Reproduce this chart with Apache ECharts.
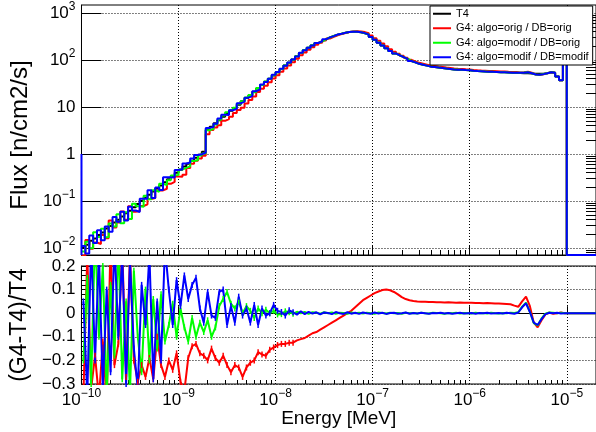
<!DOCTYPE html>
<html><head><meta charset="utf-8">
<script src="https://cdn.jsdelivr.net/npm/echarts@6/dist/echarts.min.js"></script>
<style>html,body{margin:0;padding:0;background:#fff}#c{width:596px;height:432px}</style>
</head><body><div id="c"></div>
<script>
// ---------------- data ----------------
const binsPerDecade = 25;          // log-spaced energy bins
const logEnergyStart = -10;        // first bin edge: 1e-10 MeV
const seriesNames = ['T4', 'G4: algo=orig / DB=orig', 'G4: algo=modif / DB=orig', 'G4: algo=modif / DB=modif'];
const xTickValues = [1e-10, 1e-9, 1e-8, 1e-7, 1e-6, 1e-5];
const xTickLabels = ['10^-10', '10^-9', '10^-8', '10^-7', '10^-6', '10^-5'];
const yTopTickValues = [1e-2, 1e-1, 1, 10, 100, 1000];
const yTopTickLabels = ['10^-2', '10^-1', '1', '10', '10^2', '10^3'];
const blueUnderflow = 1;

// T4 flux per bin [n/cm2/s]
const t4Flux = [
  0.0105, 0.0118, 0.0142, 0.0160, 0.0190, 0.0215, 0.026, 0.0295, 0.035, 0.040,
  0.047, 0.055, 0.062, 0.074, 0.086, 0.100, 0.117, 0.136, 0.160, 0.185,
  0.215, 0.25, 0.29, 0.335, 0.40, 0.46, 0.54, 0.62, 0.72, 0.83,
  0.97, 1.12, 3.3, 3.8, 4.5, 5.2, 6.2, 7.1, 8.3, 9.5,
  11.2, 13.2, 15.5, 17.8, 21, 25, 29.5, 34.5, 40, 47,
  55, 64.5, 76, 87, 102, 120, 141, 162, 182, 204,
  229, 251, 275, 302, 324, 347, 363, 380, 394, 398,
  398, 389, 372, 347, 309, 269, 234, 204, 178, 155,
  138, 126, 115, 105, 95.5, 89, 83, 79.4, 75.9, 72.4,
  70.8, 69.2, 67.6, 66.1, 64.6, 63.1, 62.4, 61.7, 61.0, 60.3,
  58.9, 58.2, 57.5, 56.9, 56.2, 56.0, 55.6, 55.0, 55.0, 54.3,
  53.7, 53.7, 53.1, 52.5, 52.5, 51.9, 51.3, 51.3, 51.3, 52.5,
  55.0, 53.7, 44.7, 37.2, 150, 0, 0, 0, 0, 0,
  0, 0, 0
];

// (G4-T4)/T4 per bin
const ratioOrigOrig = [
  -0.35, 0.25, -0.32, -0.18, -0.36, -0.12, -0.38, 0.30, -0.22, -0.13,
  0.28, -0.27, 0.25, -0.20, -0.29, -0.22, -0.27, -0.19, -0.28, -0.10,
  -0.22, -0.27, -0.20, -0.24, -0.17, -0.29, -0.33, -0.19, -0.14, -0.13,
  -0.17, -0.18, -0.20, -0.15, -0.19, -0.21, -0.18, -0.22, -0.25, -0.22,
  -0.23, -0.27, -0.23, -0.21, -0.20, -0.165, -0.175, -0.18, -0.155, -0.145,
  -0.135, -0.13, -0.13, -0.125, -0.125, -0.115, -0.11, -0.105, -0.095, -0.085,
  -0.08, -0.07, -0.06, -0.05, -0.04, -0.03, -0.02, -0.01, 0.0, 0.01,
  0.025, 0.04, 0.055, 0.065, 0.075, 0.085, 0.092, 0.098, 0.100, 0.097,
  0.090, 0.080, 0.068, 0.060, 0.055, 0.052, 0.050, 0.049, 0.048, 0.047,
  0.047, 0.046, 0.046, 0.045, 0.046, 0.045, 0.044, 0.045, 0.044, 0.044,
  0.044, 0.043, 0.043, 0.042, 0.043, 0.042, 0.041, 0.041, 0.040, 0.039,
  0.038, 0.032, 0.027, 0.050, 0.070, 0.030, -0.040, -0.060, -0.030, -0.005,
  0.002, -0.002, 0.0, 0.003, 0.0, 0, 0, 0, 0, 0,
  0, 0, 0
];
const ratioModifOrig = [
  -0.20, 0.15, -0.30, 0.35, -0.10, 0.20, -0.35, 0.12, -0.18, 0.30,
  -0.28, 0.05, -0.33, 0.18, -0.10, -0.25, 0.10, -0.20, 0.06, -0.15,
  0.08, -0.12, -0.05, 0.04, -0.10, 0.02, -0.06, -0.12, -0.02, -0.10,
  -0.04, -0.08, -0.03, -0.10, -0.06, 0.03, 0.06, 0.09, 0.04, 0.02,
  0.05, 0.0, 0.03, 0.01, -0.02, 0.02, 0.0, 0.015, 0.0, 0.01,
  -0.005, -0.004, 0.008, 0.004, -0.002, 0.006, 0.0, 0.005, -0.003, 0.004,
  0.002, -0.002, 0.004, 0.0, 0.003, -0.002, 0.002, 0.001, -0.002, 0.003,
  0.0, 0.002, -0.001, 0.002, 0.0, -0.002, 0.003, 0.001, -0.001, 0.002,
  0.0, 0.001, -0.002, 0.002, 0.0, 0.001, -0.001, 0.002, 0.0, -0.001,
  0.002, 0.001, 0.0, -0.002, 0.001, 0.0, 0.002, -0.001, 0.001, 0.0,
  -0.001, 0.002, 0.0, 0.001, -0.001, 0.002, 0.0, -0.001, 0.001, 0.0,
  0.002, 0.001, 0.004, 0.028, 0.045, 0.006, -0.042, -0.052, -0.022, -0.002,
  0.003, 0.002, 0.0, 0.002, 0.0, 0, 0, 0, 0, 0,
  0, 0, 0
];
const ratioModifModif = [
  0.05, -0.35, 0.30, -0.20, 0.25, -0.32, 0.10, -0.25, 0.30, -0.10,
  0.25, -0.30, 0.22, -0.15, -0.32, 0.12, -0.05, 0.25, -0.28, 0.05,
  -0.20, 0.28, 0.10, -0.05, 0.14, 0.03, 0.16, 0.06, 0.12, 0.15,
  0.02, -0.04, 0.09, -0.01, -0.02, 0.09, 0.10, -0.05, 0.03, -0.04,
  0.07, -0.01, 0.02, -0.04, 0.035, -0.05, 0.02, -0.01, 0.0, 0.035,
  0.01, 0.005, -0.01, 0.012, 0.004, -0.006, 0.008, -0.004, 0.006, -0.002,
  0.004, -0.005, 0.003, 0.001, -0.004, 0.005, 0.0, -0.003, 0.004, -0.002,
  0.002, -0.003, 0.003, 0.0, -0.002, 0.003, -0.001, 0.002, -0.003, 0.001,
  0.002, -0.002, 0.0, 0.003, -0.002, 0.001, -0.001, 0.002, 0.0, -0.002,
  0.001, 0.0, 0.002, -0.001, 0.001, -0.002, 0.0, 0.002, -0.001, 0.0,
  0.001, -0.002, 0.001, 0.0, 0.002, -0.001, 0.0, 0.001, -0.001, 0.002,
  0.0, -0.002, 0.003, 0.025, 0.042, 0.005, -0.040, -0.050, -0.025, -0.004,
  0.002, 0.0, 0.002, -0.001, 0.0, 0, 0, 0, 0, 0,
  0, 0, 0
];

// ---------------- helpers ----------------
const FONT = 'Liberation Sans, Arial, Helvetica, sans-serif';
const colors = ['#000000', '#ff0000', '#00ff00', '#0000ff'];
const xMin = 1e-10, xMax = 2e-5;
const yTopMin = 0.0071, yTopMax = 1480;

function edge(i) { return Math.pow(10, logEnergyStart + i / binsPerDecade); }
function center(i) { return Math.pow(10, logEnergyStart + (i + 0.5) / binsPerDecade); }
function histPoints(vals) {
  const pts = vals.map((v, i) => [edge(i), v > 0 ? v : yTopMin]);
  pts.push([edge(vals.length), pts[pts.length - 1][1]]);
  return pts;
}
function minorList(lo, hi) {
  const out = [];
  for (let e = lo; e < hi; e++) for (let k = 2; k <= 9; k++) out.push(k * Math.pow(10, e));
  return out;
}
function richLabel(s) {
  const p = s.split('^');
  return p.length > 1 ? '{b|' + p[0] + '}{s|' + p[1].replace('-', '\u2212') + '}' : '{b|' + s + '}';
}
const richStyle = {
  b: { fontSize: 17, fontFamily: FONT, color: '#000', lineHeight: 24 },
  s: { fontSize: 12, fontFamily: FONT, color: '#000', lineHeight: 12, verticalAlign: 'top' }
};
function labelFor(values, labels) {
  return function (v) {
    const lv = Math.round(Math.log10(v));
    for (let i = 0; i < values.length; i++) if (Math.round(Math.log10(values[i])) === lv) return richLabel(labels[i]);
    return '';
  };
}
const dotted = { color: '#000', width: 1, type: [1, 2] };

const ratios = [ratioOrigOrig, ratioModifOrig, ratioModifModif];
const g4Flux = ratios.map(r => t4Flux.map((v, i) => v * (1 + r[i])));
const topData = [t4Flux].concat(g4Flux).map(histPoints);
// blue histogram starts from its underflow level at the left edge
topData[3] = [[edge(0), blueUnderflow], [edge(0), yTopMin]].concat(topData[3]);

function xAxisPair(gridIndex, showLabels, majorLen, minorLen) {
  return [{
    type: 'log', logBase: 10, gridIndex, min: xMin, max: xMax, position: 'bottom',
    axisLine: { show: true, lineStyle: { color: '#000', width: 1 } },
    axisTick: { show: true, inside: true, length: majorLen, customValues: xTickValues, lineStyle: { color: '#000' } },
    axisLabel: { show: showLabels, customValues: xTickValues, formatter: labelFor(xTickValues, xTickLabels), rich: richStyle, margin: 4 },
    splitLine: { show: true, lineStyle: dotted },
    name: showLabels ? 'Energy [MeV]' : '', nameLocation: 'middle', nameGap: 25,
    nameTextStyle: { fontSize: 19, fontFamily: FONT, color: '#000' }
  }, {
    type: 'log', logBase: 10, gridIndex, min: xMin, max: xMax, position: 'bottom',
    axisLine: { show: false },
    axisTick: { show: true, inside: true, length: minorLen, customValues: minorList(-10, -4).filter(v => v < xMax), lineStyle: { color: '#000' } },
    axisLabel: { show: false }, splitLine: { show: false }
  }];
}

const option = {
  animation: false,
  backgroundColor: '#fff',
  grid: [
    { left: 78, top: 5, width: 520, height: 250, show: true, borderColor: '#000', borderWidth: 1, backgroundColor: '#fff' },
    { left: 78, top: 266, width: 520, height: 118, show: true, borderColor: '#000', borderWidth: 1, backgroundColor: '#fff' }
  ],
  legend: {
    data: seriesNames, orient: 'vertical', left: 430, top: 6,
    backgroundColor: '#fff', borderColor: '#000', borderWidth: 1, borderRadius: 0,
    padding: [1, 4, 1, 3], itemGap: 1, itemWidth: 18, itemHeight: 2, icon: 'rect',
    textStyle: { fontSize: 11, fontFamily: FONT, color: '#000', lineHeight: 13.5 }, z: 20
  },
  xAxis: [].concat(xAxisPair(0, false, 10, 5), xAxisPair(1, true, 7, 4)),
  yAxis: [{
    type: 'log', logBase: 10, gridIndex: 0, min: yTopMin, max: yTopMax,
    axisLine: { show: true, lineStyle: { color: '#000' } },
    axisTick: { show: true, inside: true, length: 20, customValues: yTopTickValues, lineStyle: { color: '#000' } },
    axisLabel: { customValues: yTopTickValues, formatter: labelFor(yTopTickValues, yTopTickLabels), rich: richStyle, margin: 6 },
    splitLine: { show: true, lineStyle: dotted },
    name: 'Flux [n/cm2/s]', nameLocation: 'middle', nameGap: 45,
    nameTextStyle: { fontSize: 24, fontFamily: FONT, color: '#000', padding: [0, 10, 0, 0] }
  }, {
    type: 'log', logBase: 10, gridIndex: 0, min: yTopMin, max: yTopMax,
    axisLine: { show: false },
    axisTick: { show: true, inside: true, length: 10, customValues: minorList(-3, 4).filter(v => v > yTopMin && v < yTopMax), lineStyle: { color: '#000' } },
    axisLabel: { show: false }, splitLine: { show: false }
  }, {
    type: 'value', gridIndex: 1, min: -0.3, max: 0.2, interval: 0.1,
    axisLine: { show: true, lineStyle: { color: '#000' } },
    axisTick: { show: true, inside: true, length: 10, lineStyle: { color: '#000' } },
    minorTick: { show: true, splitNumber: 5, length: 5, lineStyle: { color: '#000' } },
    axisLabel: {
      fontSize: 17, fontFamily: FONT, color: '#000', margin: 6,
      formatter: v => { const r = Math.round(v * 10) / 10; return r === 0 ? '0' : (r < 0 ? '\u2212' : '') + Math.abs(r).toFixed(1); }
    },
    splitLine: { show: true, lineStyle: dotted },
    name: '(G4-T4)/T4', nameLocation: 'middle', nameGap: 45,
    nameTextStyle: { fontSize: 23, fontFamily: FONT, color: '#000' }
  }],
  series: []
};

topData.forEach((d, k) => option.series.push({
  name: seriesNames[k], type: 'line', xAxisIndex: 0, yAxisIndex: 0, data: d,
  step: 'end', showSymbol: false, clip: true,
  lineStyle: { color: colors[k], width: 2 }, itemStyle: { color: colors[k] }
}));
ratios.forEach((r, k) => option.series.push({
  name: seriesNames[k + 1], type: 'line', xAxisIndex: 2, yAxisIndex: 2,
  data: r.map((v, i) => [center(i), v]),
  showSymbol: true, showAllSymbol: true, symbol: 'rect',
  symbolSize: (v, p) => p.dataIndex < 55 ? [1.5, 6] : 0,
  clip: true,
  lineStyle: { color: colors[k + 1], width: 2 }, itemStyle: { color: colors[k + 1] }
}));

const chart = echarts.init(document.getElementById('c'), null, { renderer: 'canvas' });
chart.setOption(option);
</script></body></html>
